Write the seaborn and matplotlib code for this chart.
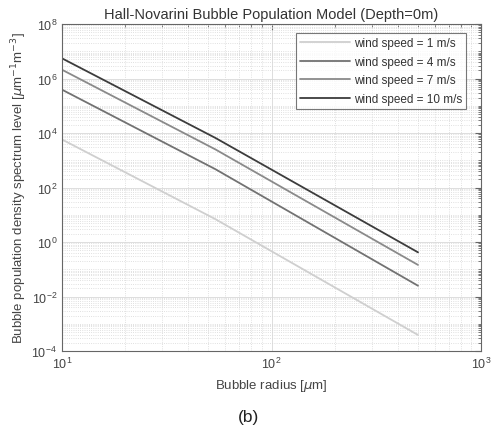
import matplotlib
matplotlib.use("Agg")
import matplotlib.pyplot as plt
import matplotlib.ticker as mticker
import numpy as np
import pandas as pd
import seaborn as sns

# --- data (log-log straight segments) ---
radius_um = [10, 54, 500]
n_1ms = [5.8e3, 6.9e0, 3.9e-4]
n_4ms = [3.9e5, 4.7e2, 2.5e-2]
n_7ms = [2.1e6, 2.5e3, 1.45e-1]
n_10ms = [5.5e6, 6.6e3, 4.2e-1]
labels = ["wind speed = 1 m/s", "wind speed = 4 m/s",
          "wind speed = 7 m/s", "wind speed = 10 m/s"]
colors = ["#cfcfcf", "#727272", "#8a8a8a", "#3c3c3c"]

sns.set_style("white")
plt.rcParams["font.family"] = ["Liberation Sans", "DejaVu Sans"]
plt.rcParams["mathtext.fontset"] = "dejavusans"

rows = []
for lab, vals in zip(labels, [n_1ms, n_4ms, n_7ms, n_10ms]):
    for r, v in zip(radius_um, vals):
        rows.append({"radius": r, "n": v, "series": lab})
df = pd.DataFrame(rows)

fig = plt.figure(figsize=(4.93, 4.39), dpi=100)
ax = fig.add_axes([0.1258, 0.198, 0.85, 0.745])

sns.lineplot(data=df, x="radius", y="n", hue="series", hue_order=labels,
             palette=dict(zip(labels, colors)), linewidth=1.3, ax=ax)

ax.set_xscale("log")
ax.set_yscale("log")
ax.set_xlim(10, 1000)
ax.set_ylim(1e-4, 1e8)

ax.yaxis.set_major_locator(mticker.FixedLocator([10.0 ** k for k in range(-4, 9, 2)]))
ax.yaxis.set_minor_locator(mticker.LogLocator(base=10, subs=np.arange(1, 10), numticks=100))
ax.yaxis.set_minor_formatter(mticker.NullFormatter())
ax.xaxis.set_major_locator(mticker.LogLocator(base=10, numticks=10))
ax.xaxis.set_minor_locator(mticker.LogLocator(base=10, subs=np.arange(2, 10), numticks=100))
ax.xaxis.set_minor_formatter(mticker.NullFormatter())

ax.grid(True, which="major", color="#d8d8d8", linewidth=0.6)
ax.grid(True, which="minor", color="#d6d6d6", linestyle=":", linewidth=0.6)
ax.set_axisbelow(True)

for s in ax.spines.values():
    s.set_color("#666666")
    s.set_linewidth(0.8)
ax.tick_params(which="both", direction="in", top=True, right=True,
               colors="#666666", labelcolor="#444444", labelsize=9)
ax.tick_params(which="major", length=4)
ax.tick_params(which="minor", length=2)

ax.set_title("Hall-Novarini Bubble Population Model (Depth=0m)",
             fontsize=10.5, color="#333333", pad=4)
ax.set_xlabel(r"Bubble radius [$\mu$m]", fontsize=9.5, color="#444444")
ax.set_ylabel(r"Bubble population density spectrum level [$\mu$m$^{-1}$m$^{-3}$]",
              fontsize=9.5, color="#444444", labelpad=2)

leg = ax.legend(loc="upper right", bbox_to_anchor=(0.964, 0.972), borderaxespad=0,
                fontsize=8.5, frameon=True, fancybox=False,
                handlelength=4.2, borderpad=0.35, labelspacing=0.55,
                handletextpad=0.3)
leg.get_frame().set_edgecolor("#555555")
leg.get_frame().set_linewidth(0.8)
for t in leg.get_texts():
    t.set_color("#333333")

fig.text(0.505, 0.048, "(b)", ha="center", va="center", fontsize=12.5, color="#222222")

fig.savefig("out.png", dpi=100)
